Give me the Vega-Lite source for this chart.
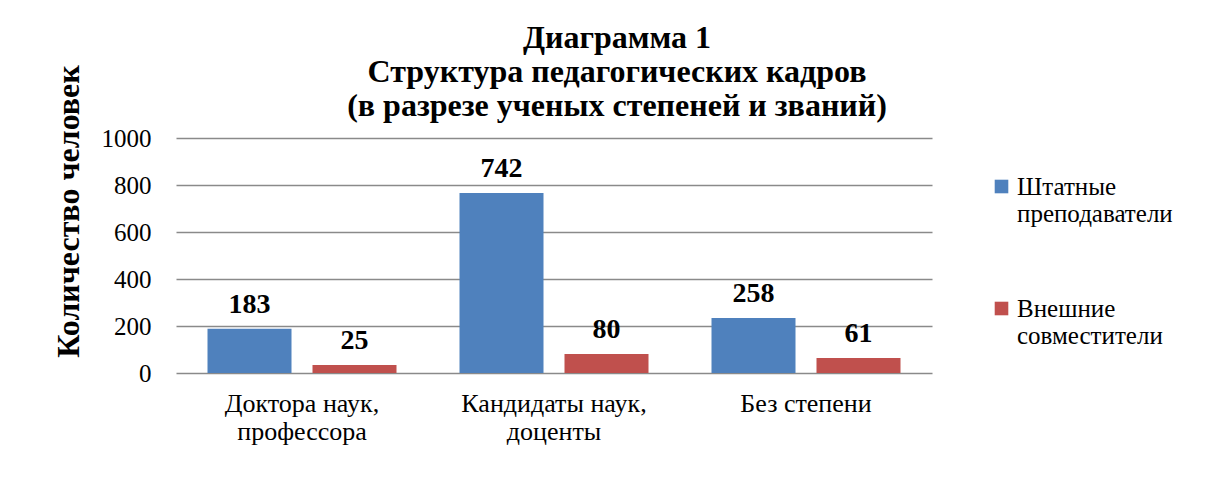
{
  "$schema": "https://vega.github.io/schema/vega-lite/v6.json",
  "width": 756,
  "height": 235,
  "autosize": {"type": "none"},
  "padding": {"left": 176, "top": 138, "right": 274, "bottom": 108},
  "background": "white",
  "title": {
    "text": ["Диаграмма 1", "Структура педагогических кадров", "(в разрезе ученых степеней и званий)"],
    "fontSize": 32,
    "fontWeight": "bold",
    "lineHeight": 34,
    "color": "black",
    "anchor": "middle",
    "frame": "group",
    "dx": 63,
    "offset": -58
  },
  "data": {
    "values": [
      {"cat": "Доктора наук, профессора", "grp": "Штатные преподаватели", "count": 188, "label": 183},
      {"cat": "Доктора наук, профессора", "grp": "Внешние совместители", "count": 34, "label": 25},
      {"cat": "Кандидаты наук, доценты", "grp": "Штатные преподаватели", "count": 766, "label": 742},
      {"cat": "Кандидаты наук, доценты", "grp": "Внешние совместители", "count": 81, "label": 80},
      {"cat": "Без степени", "grp": "Штатные преподаватели", "count": 234, "label": 258},
      {"cat": "Без степени", "grp": "Внешние совместители", "count": 64, "label": 61}
    ]
  },
  "encoding": {
    "x": {
      "field": "cat",
      "type": "nominal",
      "sort": ["Доктора наук, профессора", "Кандидаты наук, доценты", "Без степени"],
      "scale": {"paddingInner": 0.25, "paddingOuter": 0.125},
      "axis": {
        "title": null,
        "labelAngle": 0,
        "labelExpr": "indexof(datum.label, ', ') > 0 ? [split(datum.label, ', ')[0] + ',', split(datum.label, ', ')[1]] : datum.label",
        "labelFontSize": 26,
        "labelColor": "black",
        "labelLineHeight": 28,
        "labelPadding": 17,
        "ticks": false,
        "domain": false,
        "labelLimit": 400
      }
    },
    "xOffset": {
      "field": "grp",
      "type": "nominal",
      "sort": ["Штатные преподаватели", "Внешние совместители"],
      "scale": {"paddingInner": 0.2, "paddingOuter": 0}
    },
    "y": {
      "field": "count",
      "type": "quantitative",
      "scale": {"domain": [0, 1000]},
      "axis": {
        "values": [0, 200, 400, 600, 800, 1000],
        "format": "d",
        "title": "Количество человек",
        "titleFontSize": 32,
        "titleFontWeight": "bold",
        "titleColor": "black",
        "titleAngle": 270,
        "titleAlign": "center",
        "titleBaseline": "middle",
        "titleX": -108,
        "titleY": 73,
        "labelFontSize": 25,
        "labelColor": "black",
        "labelPadding": 25,
        "ticks": false,
        "domain": false,
        "grid": true,
        "gridColor": "#8a8a8a",
        "gridWidth": 1.5
      }
    }
  },
  "layer": [
    {
      "mark": {"type": "bar"},
      "encoding": {
        "color": {
          "field": "grp",
          "type": "nominal",
          "sort": ["Штатные преподаватели", "Внешние совместители"],
          "scale": {"domain": ["Штатные преподаватели", "Внешние совместители"], "range": ["#4F81BD", "#C0504D"]},
          "legend": {
            "title": null,
            "orient": "none",
            "legendX": 813,
            "legendY": 36,
            "symbolType": "square",
            "symbolSize": 185,
            "symbolStrokeWidth": 0,
            "labelFontSize": 25,
            "labelColor": "black",
            "labelLimit": 300,
            "labelOffset": 3,
            "labelExpr": "split(datum.label, ' ')",
            "rowPadding": 69,
            "padding": 0
          }
        }
      }
    },
    {
      "mark": {
        "type": "text",
        "baseline": "alphabetic",
        "dy": -16,
        "fontSize": 28,
        "fontWeight": "bold",
        "color": "black"
      },
      "encoding": {
        "text": {"field": "label", "type": "quantitative"}
      }
    }
  ],
  "config": {
    "font": "Liberation Serif",
    "view": {"stroke": null}
  }
}
